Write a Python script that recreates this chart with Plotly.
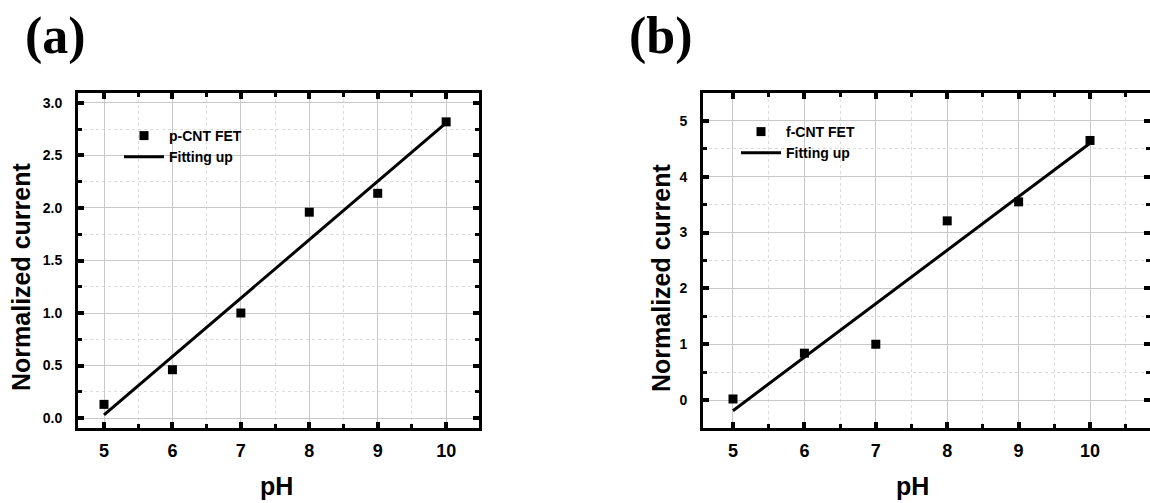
import plotly.graph_objects as go

ph = [5, 6, 7, 8, 9, 10]
p_cnt = [0.13, 0.46, 1.00, 1.96, 2.14, 2.82]
f_cnt = [0.02, 0.84, 1.00, 3.21, 3.55, 4.65]
fit_x = [5, 10]
fit_p = [0.03, 2.81]
fit_f = [-0.19, 4.60]

W, H = 1150, 503
fig = go.Figure()

fig.add_trace(go.Scatter(x=ph, y=p_cnt, mode="markers", name="p-CNT FET",
                         marker=dict(symbol="square", size=9, color="black"),
                         xaxis="x", yaxis="y", legend="legend"))
fig.add_trace(go.Scatter(x=fit_x, y=fit_p, mode="lines", name="Fitting up",
                         line=dict(color="black", width=3),
                         xaxis="x", yaxis="y", legend="legend"))
fig.add_trace(go.Scatter(x=ph, y=f_cnt, mode="markers", name="f-CNT FET",
                         marker=dict(symbol="square", size=9, color="black"),
                         xaxis="x2", yaxis="y2", legend="legend2"))
fig.add_trace(go.Scatter(x=fit_x, y=fit_f, mode="lines", name="Fitting up",
                         line=dict(color="black", width=3),
                         xaxis="x2", yaxis="y2", legend="legend2"))

tickfont_y = dict(family="Liberation Sans, Arial", size=14, color="black", weight="bold")
tickfont_x = dict(family="Liberation Sans, Arial", size=18, color="black", weight="bold")
titlefont = dict(family="Liberation Sans, Arial", size=25, color="black", weight="bold")
legfont = dict(family="Liberation Sans, Arial", size=14, color="black", weight="bold")
labelfont = dict(family="Liberation Serif, Times New Roman", size=52, color="black", weight="bold")

common = dict(showline=True, linewidth=3, linecolor="black", mirror="ticks",
              ticks="inside", ticklen=6, tickwidth=4, tickcolor="black",
              showgrid=True, gridcolor="#c8c8c8", gridwidth=1, zeroline=False,
              layer="above traces", automargin=False,
              minor=dict(ticks="inside", ticklen=4, tickwidth=3, tickcolor="black",
                         showgrid=True, gridcolor="#dcdcdc", griddash="dot", gridwidth=1))

ydom = [1 - 428 / H, 1 - 93 / H]

fig.update_layout(
    width=W, height=H, margin=dict(l=0, r=0, t=0, b=0, autoexpand=False),
    paper_bgcolor="white", plot_bgcolor="white",
    xaxis=dict(domain=[78 / W, 479 / W], range=[4.62, 10.48], dtick=1, tick0=5,
               minor_dtick=0.5, tickfont=tickfont_x, ticklabelstandoff=4,
               anchor="y", **common),
    yaxis=dict(domain=ydom, range=[-0.095, 3.095], dtick=0.5, tick0=0, tickformat=".1f",
               minor_dtick=0.25, tickfont=tickfont_y, ticklabelstandoff=10,
               anchor="x", **common),
    xaxis2=dict(domain=[703 / W, 1.0], range=[4.58, 10.84], dtick=1, tick0=5,
                minor_dtick=0.5, tickfont=tickfont_x, ticklabelstandoff=4,
                anchor="y2", **common),
    yaxis2=dict(domain=ydom, range=[-0.5, 5.5], dtick=1, tick0=0,
                minor_dtick=0.5, tickfont=tickfont_y, ticklabelstandoff=10,
                anchor="x2", **common),
    legend=dict(x=119 / W, y=1 - 120 / H, xanchor="left", yanchor="top",
                bgcolor="rgba(0,0,0,0)", itemwidth=40, tracegroupgap=0, font=legfont),
    legend2=dict(x=736 / W, y=1 - 116 / H, xanchor="left", yanchor="top",
                 bgcolor="rgba(0,0,0,0)", itemwidth=40, tracegroupgap=0, font=legfont),
    annotations=[
        dict(text="(a)", x=23 / W, y=1 - 36 / H, xref="paper", yref="paper",
             xanchor="left", yanchor="middle", showarrow=False, font=labelfont),
        dict(text="(b)", x=627 / W, y=1 - 36 / H, xref="paper", yref="paper",
             xanchor="left", yanchor="middle", showarrow=False, font=labelfont),
        dict(text="Normalized current", x=21 / W, y=1 - 277 / H, xref="paper", yref="paper",
             xanchor="center", yanchor="middle", textangle=-90, showarrow=False, font=titlefont),
        dict(text="Normalized current", x=661 / W, y=1 - 277 / H, xref="paper", yref="paper",
             xanchor="center", yanchor="middle", textangle=-90, showarrow=False, font=titlefont),
        dict(text="pH", x=276 / W, y=1 - 486 / H, xref="paper", yref="paper",
             xanchor="center", yanchor="middle", showarrow=False, font=titlefont),
        dict(text="pH", x=912 / W, y=1 - 486 / H, xref="paper", yref="paper",
             xanchor="center", yanchor="middle", showarrow=False, font=titlefont),
    ],
)

fig.write_html("out.html", config={"displayModeBar": False},
               post_script="document.body.style.margin='0px';document.body.style.overflow='hidden';")
